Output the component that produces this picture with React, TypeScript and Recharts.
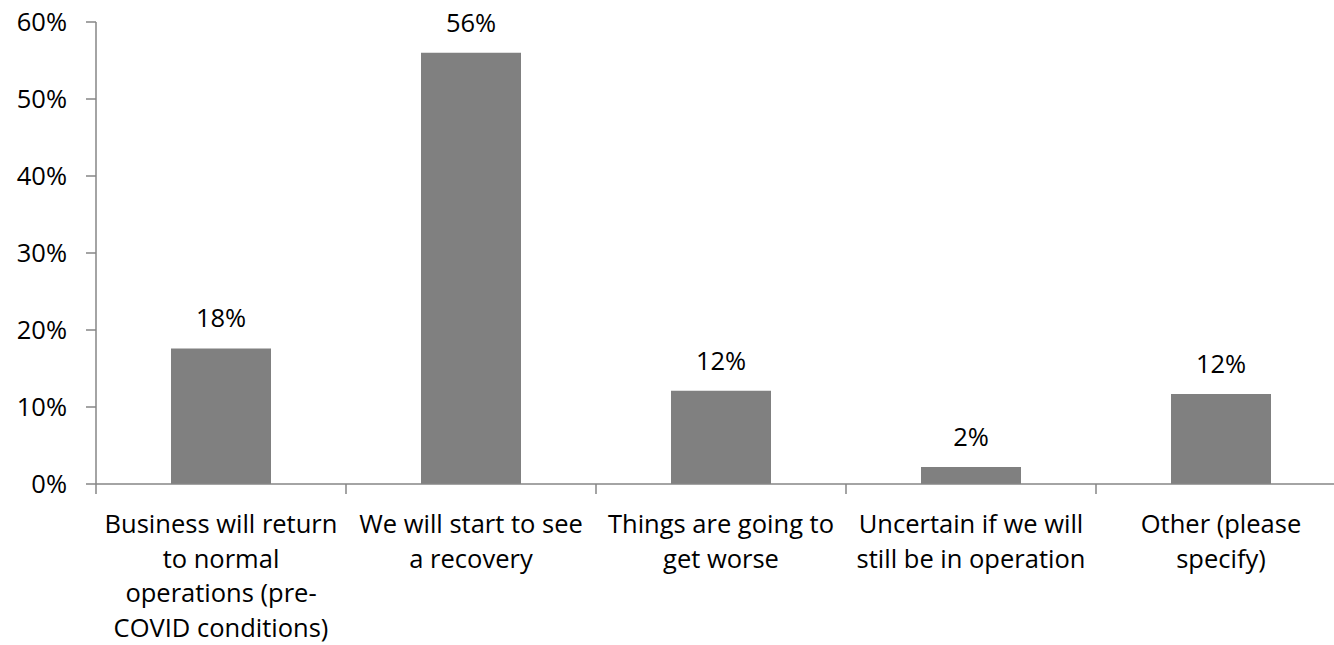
import React from 'react';
import { BarChart, Bar, XAxis, YAxis, LabelList } from 'recharts';

// survey answers (share of respondents, %)
const categories = [
  'Business will return to normal operations (pre-COVID conditions)',
  'We will start to see a recovery',
  'Things are going to get worse',
  'Uncertain if we will still be in operation',
  'Other (please specify)',
];
const tickLines = [
  ['Business will return', 'to normal', 'operations (pre-', 'COVID conditions)'],
  ['We will start to see', 'a recovery'],
  ['Things are going to', 'get worse'],
  ['Uncertain if we will', 'still be in operation'],
  ['Other (please', 'specify)'],
];
const shares = [17.6, 56.0, 12.1, 2.2, 11.7];
const yTicks = [0, 10, 20, 30, 40, 50, 60];

const FONT = '"Open Sans", sans-serif';
const AXIS = '#868686';
const FS = 25.5;

const data = categories.map((name, i) => ({ name, share: shares[i] }));

// category labels + tick marks at the band edges (Excel style)
const CategoryTick = (props: any) => {
  const { x, y, payload, width, index } = props;
  const lines = tickLines[payload.index] || [payload.value];
  const half = width / tickLines.length / 2;
  return (
    <g>
      <line x1={x - half} x2={x - half} y1={y} y2={y + 10} stroke={AXIS} strokeWidth={1.5} />
      {index === tickLines.length - 1 && (
        <line x1={x + half} x2={x + half} y1={y} y2={y + 10} stroke={AXIS} strokeWidth={1.5} />
      )}
      <text x={x} y={y} textAnchor="middle" fill="#000" fontSize={FS} fontFamily={FONT}>
        {lines.map((l: string, i: number) => (
          <tspan key={i} x={x} y={y + 49 + i * 34.7}>
            {l}
          </tspan>
        ))}
      </text>
    </g>
  );
};

export default function App() {
  return (
    <div style={{ width: 1334, height: 645, overflow: 'hidden', background: '#fff' }}>
      <style>{`body{margin:0}`}</style>
      <BarChart
        width={1350}
        height={645}
        data={data}
        margin={{ top: 22, right: 4, left: 0, bottom: 0 }}
        barCategoryGap="30%"
      >
        <XAxis
          dataKey="name"
          interval={0}
          height={161}
          tickSize={0}
          tickMargin={0}
          axisLine={{ stroke: AXIS, strokeWidth: 1.5 }}
          tickLine={false}
          tick={<CategoryTick />}
        />
        <YAxis
          width={96}
          domain={[0, 60]}
          ticks={yTicks}
          tickFormatter={(v) => `${v}%`}
          tickSize={10}
          tickMargin={19}
          axisLine={{ stroke: AXIS, strokeWidth: 1.5 }}
          tickLine={{ stroke: AXIS, strokeWidth: 1.5 }}
          tick={{ fill: '#000', fontSize: FS, fontFamily: FONT }}
        />
        <Bar dataKey="share" fill="#808080" isAnimationActive={false}>
          <LabelList
            dataKey="share"
            position="top"
            offset={21}
            formatter={(v: any) => `${Math.round(Number(v))}%`}
            fill="#000"
            fontSize={FS}
            fontFamily={FONT}
          />
        </Bar>
      </BarChart>
    </div>
  );
}
